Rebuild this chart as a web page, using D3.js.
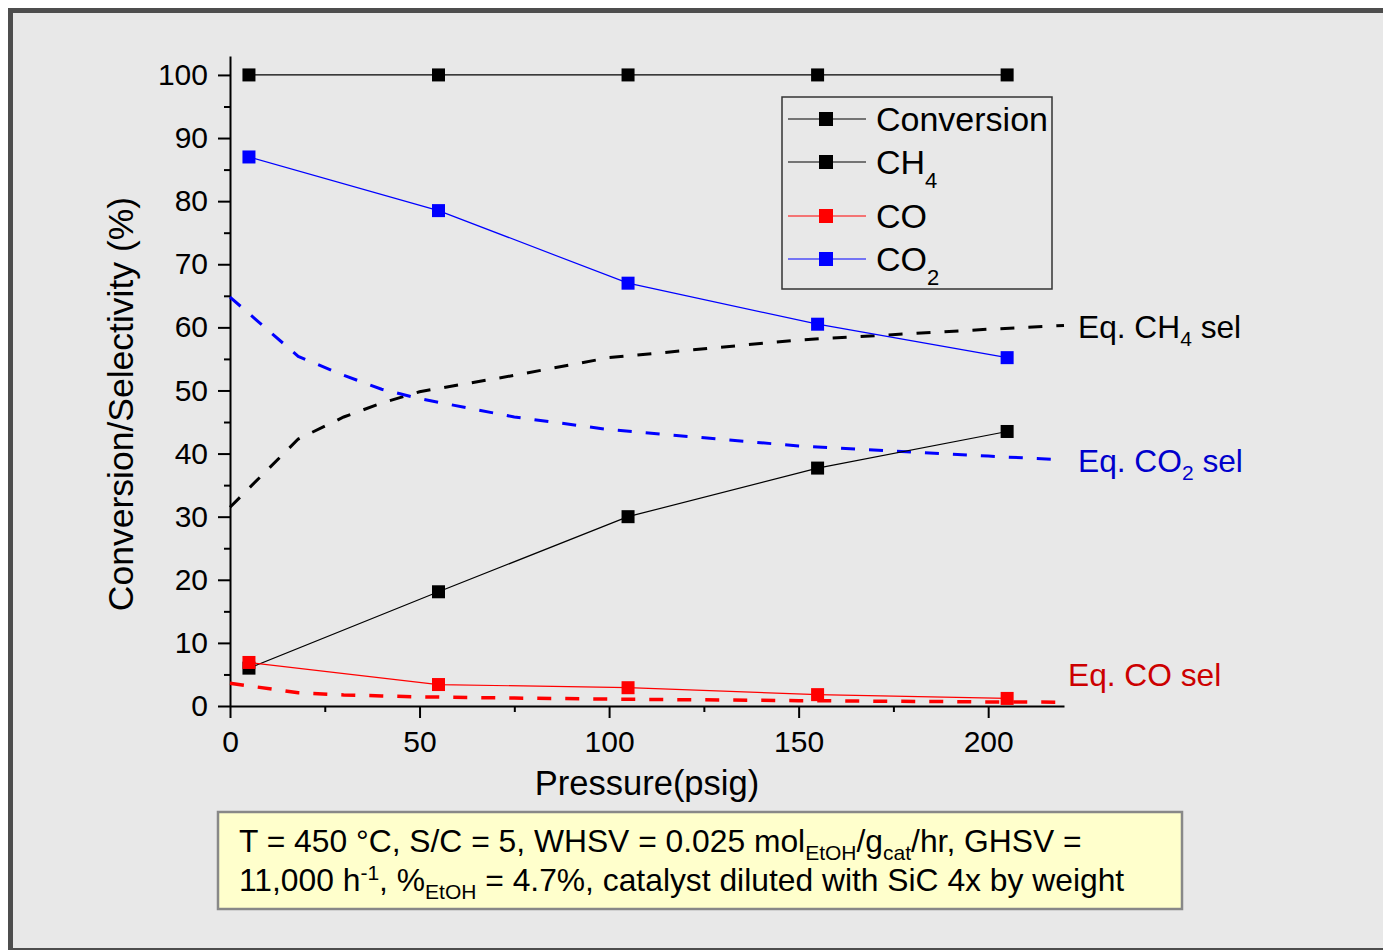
<!DOCTYPE html>
<html>
<head>
<meta charset="utf-8">
<script src="https://cdn.jsdelivr.net/npm/d3@7"></script>
<style>
  body { margin: 0; background: #ffffff; }
  svg { display: block; font-family: "Liberation Sans", Arial, sans-serif; }
</style>
</head>
<body>
<div id="chart"></div>
<script>
// measured values (psig on x, % on y)
const pressure = [5, 55, 105, 155, 205];
const conversion = [100, 100, 100, 100, 100];
const ch4Sel = [6, 18.1, 30, 37.7, 43.5];
const coSel = [6.9, 3.4, 2.9, 1.8, 1.2];
const co2Sel = [87, 78.5, 67, 60.5, 55.2];

// equilibrium curves
const eqPressure = [0, 18, 30, 40, 50, 75, 100, 150, 200, 220];
const eqCH4 = [31.5, 42.3, 45.8, 48, 49.8, 52.4, 55.2, 58, 59.7, 60.3];
const eqCO2 = [64.8, 55.4, 52.4, 50.2, 48.7, 45.8, 43.8, 41.2, 39.6, 39];
const eqCO = [3.6, 2.1, 1.75, 1.6, 1.45, 1.25, 1.1, 0.85, 0.65, 0.6];

const xTicks = [0, 50, 100, 150, 200];
const xMinor = [25, 75, 125, 175];
const yTicks = d3.range(0, 101, 10);
const yMinor = d3.range(5, 100, 10);

const width = 1383, height = 950;

let svg = d3.select("#chart")
    .append("svg")
        .attr("width", width)
        .attr("height", height);

// grey panel with dark frame
svg.append("rect")
    .attr("x", 10.5).attr("y", 10.5)
    .attr("width", 1400).attr("height", 940)
    .attr("fill", "#e8e8e8")
    .attr("stroke", "#4d4d4d")
    .attr("stroke-width", 5);

let x = d3.scaleLinear().domain([0, 220]).range([230, 1064]);
let y = d3.scaleLinear().domain([0, 103]).range([706, 56]);

//axes: major ticks with labels, minor ticks without
svg.append("g")
    .attr("transform", `translate(0, ${y(0)})`)
    .call(d3.axisBottom(x).tickValues(xTicks).tickSize(12).tickSizeOuter(0).tickPadding(13));
svg.append("g")
    .attr("transform", `translate(0, ${y(0)})`)
    .call(d3.axisBottom(x).tickValues(xMinor).tickSize(6).tickFormat(""))
    .select(".domain").remove();

svg.append("g")
    .attr("transform", `translate(${x(0)}, 0)`)
    .call(d3.axisLeft(y).tickValues(yTicks).tickSize(12).tickSizeOuter(0).tickPadding(10));
svg.append("g")
    .attr("transform", `translate(${x(0)}, 0)`)
    .call(d3.axisLeft(y).tickValues(yMinor).tickSize(6).tickFormat(""))
    .select(".domain").remove();

svg.selectAll(".domain").attr("stroke", "#000").attr("stroke-width", 2);
svg.selectAll(".tick line").attr("stroke", "#000").attr("stroke-width", 2);
svg.selectAll(".tick text")
    .style("font-size", "30px")
    .style("font-family", "'Liberation Sans', Arial, sans-serif")
    .attr("fill", "#000");

// axis titles
svg.append("text")
    .attr("x", 647).attr("y", 795)
    .style("text-anchor", "middle")
    .style("font-size", "34.5px")
    .text("Pressure(psig)");

svg.append("text")
    .attr("transform", "translate(133, 404) rotate(-90)")
    .style("text-anchor", "middle")
    .style("font-size", "35.5px")
    .text("Conversion/Selectivity (%)");

// dashed equilibrium lines
let eqLine = d3.line()
    .x(function(d) { return x(d[0]); })
    .y(function(d) { return y(d[1]); });

let eqSeries = [
    { vals: eqCH4, color: "#000000", w: 3 },
    { vals: eqCO2, color: "#0000ff", w: 3 },
    { vals: eqCO, color: "#ff0000", w: 3.5 }
];
eqSeries.forEach(function(s) {
    svg.append("path")
        .datum(d3.zip(eqPressure, s.vals))
        .attr("d", eqLine)
        .attr("fill", "none")
        .attr("stroke", s.color)
        .attr("stroke-width", s.w)
        .attr("stroke-dasharray", "14,14");
});

// measured series
let series = [
    { name: "Conversion", vals: conversion, color: "#000000" },
    { name: "CH", sub: "4", vals: ch4Sel, color: "#000000" },
    { name: "CO", vals: coSel, color: "#ff0000" },
    { name: "CO", sub: "2", vals: co2Sel, color: "#0000ff" }
];

series.forEach(function(s) {
    let pts = d3.zip(pressure, s.vals);
    svg.append("path")
        .datum(pts)
        .attr("d", eqLine)
        .attr("fill", "none")
        .attr("stroke", s.color)
        .attr("stroke-width", 1.2);
    svg.selectAll(null)
        .data(pts)
        .enter()
        .append("rect")
        .attr("x", function(d) { return x(d[0]) - 6.5; })
        .attr("y", function(d) { return y(d[1]) - 6.5; })
        .attr("width", 13)
        .attr("height", 13)
        .attr("fill", s.color);
});

//legend
let leg = svg.append("g").attr("class", "legend");
leg.append("rect")
    .attr("x", 782).attr("y", 97)
    .attr("width", 270).attr("height", 192)
    .attr("fill", "#e8e8e8")
    .attr("stroke", "#333")
    .attr("stroke-width", 1.5);

let rowY = [119, 162, 216, 259];
series.forEach(function(s, i) {
    let ry = rowY[i];
    leg.append("line")
        .attr("x1", 788).attr("x2", 866)
        .attr("y1", ry).attr("y2", ry)
        .attr("stroke", s.color)
        .attr("stroke-width", 1.2);
    leg.append("rect")
        .attr("x", 819).attr("y", ry - 7)
        .attr("width", 14).attr("height", 14)
        .attr("fill", s.color);
    let t = leg.append("text")
        .attr("x", 876).attr("y", ry + 12)
        .style("font-size", "34px")
        .text(s.name);
    if (s.sub) {
        t.append("tspan")
            .attr("dy", 14)
            .style("font-size", "22px")
            .text(s.sub);
    }
});

// labels for the equilibrium curves
let eqLabels = [
    { pre: "Eq. CH", sub: "4", post: " sel", x: 1078, y: 338, color: "#000000" },
    { pre: "Eq. CO", sub: "2", post: " sel", x: 1078, y: 472, color: "#0000cc" },
    { pre: "Eq. CO sel", sub: null, post: "", x: 1068, y: 686, color: "#cc0000" }
];
eqLabels.forEach(function(l) {
    let t = svg.append("text")
        .attr("x", l.x).attr("y", l.y)
        .attr("fill", l.color)
        .style("font-size", "31.7px")
        .text(l.pre);
    if (l.sub) {
        t.append("tspan").attr("dy", 8).style("font-size", "21px").text(l.sub);
        t.append("tspan").attr("dy", -8).text(l.post);
    }
});

// conditions box
svg.append("rect")
    .attr("x", 218).attr("y", 812)
    .attr("width", 964).attr("height", 97)
    .attr("fill", "#ffffcc")
    .attr("stroke", "#888")
    .attr("stroke-width", 2.5);

let line1 = [
    ["T = 450 °C, S/C = 5, WHSV = 0.025 mol", 0],
    ["EtOH", 1],
    ["/g", 0],
    ["cat", 1],
    ["/hr, GHSV =", 0]
];
let line2 = [
    ["11,000 h", 0],
    ["-1", -1],
    [", %", 0],
    ["EtOH", 1],
    [" = 4.7%, catalyst diluted with SiC 4x by weight", 0]
];

function writeLine(parts, ly) {
    let t = svg.append("text")
        .attr("x", 239).attr("y", ly)
        .style("font-size", "31.8px");
    let shift = 0;
    parts.forEach(function(p) {
        let target = p[1] == 1 ? 8 : (p[1] == -1 ? -11 : 0);
        t.append("tspan")
            .attr("dy", target - shift)
            .style("font-size", p[1] == 0 ? "31.8px" : "21px")
            .text(p[0]);
        shift = target;
    });
}
writeLine(line1, 852);
writeLine(line2, 891);
</script>
</body>
</html>
